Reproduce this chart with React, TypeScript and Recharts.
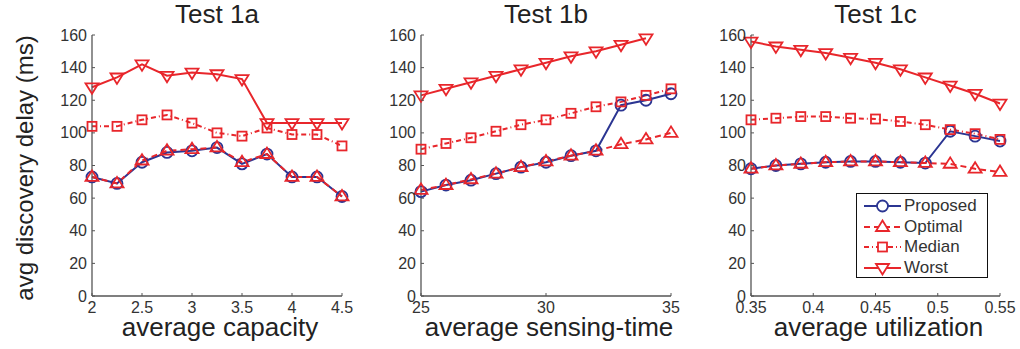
import React from 'react';
import { LineChart, Line, XAxis, YAxis, Legend } from 'recharts';

const xA = [2, 2.25, 2.5, 2.75, 3, 3.25, 3.5, 3.75, 4, 4.25, 4.5];
const proposedA = [73, 69, 82, 88, 89, 91, 81, 87, 73, 73, 61];
const optimalA = [73, 69, 83, 89, 90, 91, 82, 87, 73, 73, 61];
const medianA = [104, 104, 108, 111, 106, 100, 98, 103, 99, 99, 92];
const worstA = [128, 134, 142, 135, 137, 136, 133, 106, 106, 106, 106];

const xB = [25, 26, 27, 28, 29, 30, 31, 32, 33, 34, 35];
const proposedB = [64, 68, 71, 75, 79, 82, 86, 89, 117, 120, 124];
const optimalB = [65, 68, 71.5, 75, 79, 82.5, 86, 89, 93, 96, 100];
const medianB = [90, 93.5, 97, 101, 105, 108, 112, 116, 119, 123, 127];
const worstB = [123, 127, 131, 135, 139, 143, 147, 150, 154, 158, null];

const xC = [0.35, 0.37, 0.39, 0.41, 0.43, 0.45, 0.47, 0.49, 0.51, 0.53, 0.55];
const proposedC = [78, 80, 81, 82, 82.5, 82.5, 82, 81.5, 101, 98, 95];
const optimalC = [78, 80, 81, 82, 82.5, 82.5, 82, 81.5, 81, 78, 76];
const medianC = [108, 109, 110, 110, 109, 108.5, 107, 105, 102, 99.5, 96];
const worstC = [156, 153, 151, 149, 146, 143, 139, 134, 129, 124, 118];

const yTicks = [0, 20, 40, 60, 80, 100, 120, 140, 160];
const xTicksA = [2, 2.5, 3, 3.5, 4, 4.5];
const xTicksB = [25, 30, 35];
const xTicksC = [0.35, 0.4, 0.45, 0.5, 0.55];

const titles = ['Test 1a', 'Test 1b', 'Test 1c'];
const xLabels = ['average capacity', 'average sensing-time', 'average utilization'];
const yLabel = 'avg discovery delay (ms)';
const seriesNames = ['Proposed', 'Optimal', 'Median', 'Worst'];

const BLUE = '#2b3592';
const RED = '#e8262b';
const AXIS = '#555';
const TXT = '#333';
const FONT = '"Liberation Sans", Arial, sans-serif';

const build = (xs: number[], p: any[], o: any[], m: any[], w: any[]) =>
  xs.map((x, i) => ({ x, proposed: p[i], optimal: o[i], median: m[i], worst: w[i] }));

const circle = (color: string) => (props: any) => {
  const { cx, cy, index } = props;
  if (cx == null || cy == null) return <g key={`c${index}`} />;
  return <circle key={`c${index}`} cx={cx} cy={cy} r={5.5} fill="none" stroke={color} strokeWidth={1.8} />;
};
const triUp = (color: string) => (props: any) => {
  const { cx, cy, index } = props;
  if (cx == null || cy == null) return <g key={`u${index}`} />;
  const s = 6.5;
  return (
    <polygon key={`u${index}`} points={`${cx},${cy - s} ${cx - s},${cy + s * 0.6} ${cx + s},${cy + s * 0.6}`}
      fill="none" stroke={color} strokeWidth={1.8} />
  );
};
const triDown = (color: string) => (props: any) => {
  const { cx, cy, index, value } = props;
  if (cx == null || cy == null || value == null) return <g key={`d${index}`} />;
  const s = 6.5;
  return (
    <polygon key={`d${index}`} points={`${cx},${cy + s} ${cx - s},${cy - s * 0.6} ${cx + s},${cy - s * 0.6}`}
      fill="none" stroke={color} strokeWidth={1.8} />
  );
};
const square = (color: string) => (props: any) => {
  const { cx, cy, index } = props;
  if (cx == null || cy == null) return <g key={`s${index}`} />;
  const s = 4.5;
  return <rect key={`s${index}`} x={cx - s} y={cy - s} width={2 * s} height={2 * s} fill="none" stroke={color} strokeWidth={1.8} />;
};

const YTick = (props: any) => {
  const { x, y, payload } = props;
  return (
    <g>
      <line x1={x + 5} x2={x + 8} y1={y} y2={y} stroke={AXIS} strokeWidth={1} />
      <text x={x} y={y} textAnchor="end" dominantBaseline="central" fill={TXT} fontSize={16} fontFamily={FONT}>
        {payload.value}
      </text>
    </g>
  );
};
const XTick = (props: any) => {
  const { x, y, payload } = props;
  return (
    <g>
      <line x1={x} x2={x} y1={y - 5} y2={y - 8} stroke={AXIS} strokeWidth={1} />
      <text x={x} y={y} textAnchor="middle" dy="0.72em" fill={TXT} fontSize={16} fontFamily={FONT}>
        {payload.value}
      </text>
    </g>
  );
};

const LegendBox = () => {
  const rows = [
    { name: seriesNames[0], color: BLUE, dash: undefined as any, mk: 'c' },
    { name: seriesNames[1], color: RED, dash: '6 4', mk: 'u' },
    { name: seriesNames[2], color: RED, dash: '5 3 1 3', mk: 's' },
    { name: seriesNames[3], color: RED, dash: undefined, mk: 'd' },
  ];
  return (
    <div style={{ border: '1.5px solid #111', background: '#fff', width: 132, height: 85, boxSizing: 'border-box', paddingTop: 2 }}>
      {rows.map((r) => (
        <div key={r.name} style={{ display: 'flex', alignItems: 'center', height: 20.5 }}>
          <svg width={47} height={20} style={{ display: 'block', flex: 'none' }}>
            <line x1={7} x2={44} y1={10} y2={10} stroke={r.color} strokeWidth={2} strokeDasharray={r.dash} />
            {r.mk === 'c' && <circle cx={25.5} cy={10} r={5.5} fill="#fff" stroke={r.color} strokeWidth={1.8} />}
            {r.mk === 'u' && <polygon points="25.5,3.5 19,14 32,14" fill="#fff" stroke={r.color} strokeWidth={1.8} />}
            {r.mk === 's' && <rect x={21} y={5.5} width={9} height={9} fill="#fff" stroke={r.color} strokeWidth={1.8} />}
            {r.mk === 'd' && <polygon points="25.5,16.5 19,6 32,6" fill="#fff" stroke={r.color} strokeWidth={1.8} />}
          </svg>
          <span style={{ fontFamily: FONT, fontSize: 17, color: TXT, whiteSpace: 'nowrap' }}>{r.name}</span>
        </div>
      ))}
    </div>
  );
};

type PanelProps = {
  left: number;
  width: number;
  yAxisWidth: number;
  marginRight: number;
  data: any[];
  domain: [number, number];
  ticks: number[];
  title: string;
  xLabel: string;
  showYLabel?: boolean;
  showLegend?: boolean;
};

const Panel = (p: PanelProps) => {
  const plotLeft = p.yAxisWidth;
  const plotRight = p.width - p.marginRight;
  const cx = (plotLeft + plotRight) / 2;
  return (
    <div style={{ position: 'absolute', left: p.left, top: 0 }}>
      <LineChart width={p.width} height={349} data={p.data} margin={{ top: 35, right: p.marginRight, bottom: 23, left: 0 }}>
        <text x={cx} y={14} textAnchor="middle" dominantBaseline="central" fontSize={26} fontFamily={FONT} fill="#222">
          {p.title}
        </text>
        <text x={cx + 3} y={336} textAnchor="middle" fontSize={26} fontFamily={FONT} fill="#222">
          {p.xLabel}
        </text>
        {p.showYLabel && (
          <text x={24} y={168} textAnchor="middle" dominantBaseline="central" fontSize={24} fontFamily={FONT} fill="#222"
            transform="rotate(-90, 24, 168)">
            {yLabel}
          </text>
        )}
        <XAxis dataKey="x" type="number" domain={p.domain} ticks={p.ticks} height={30} tickSize={0} tickMargin={5}
          tick={<XTick />} axisLine={{ stroke: AXIS, strokeWidth: 1.3 }} tickLine={false} interval={0} allowDecimals />
        <YAxis type="number" domain={[0, 160]} ticks={yTicks} width={p.yAxisWidth} tickSize={0} tickMargin={5}
          tick={<YTick />} axisLine={{ stroke: AXIS, strokeWidth: 1.3 }} tickLine={false} interval={0} />
        <Line dataKey="proposed" name={seriesNames[0]} stroke={BLUE} strokeWidth={2} dot={circle(BLUE)} isAnimationActive={false} />
        <Line dataKey="optimal" name={seriesNames[1]} stroke={RED} strokeWidth={2} strokeDasharray="6 4" dot={triUp(RED)} isAnimationActive={false} />
        <Line dataKey="median" name={seriesNames[2]} stroke={RED} strokeWidth={2} strokeDasharray="5 3 1 3" dot={square(RED)} isAnimationActive={false} />
        <Line dataKey="worst" name={seriesNames[3]} stroke={RED} strokeWidth={2} dot={triDown(RED)} isAnimationActive={false} />
        {p.showLegend && (
          <Legend content={<LegendBox />} layout="vertical" align="center" verticalAlign="middle"
            wrapperStyle={{ left: 176, top: 193, width: 132, height: 85 }} />
        )}
      </LineChart>
    </div>
  );
};

export default function App() {
  return (
    <div style={{ position: 'absolute', left: 0, top: 0, width: 1020, height: 349, background: '#fff', overflow: 'hidden' }}>
      <Panel left={0} width={362} yAxisWidth={92} marginRight={20} data={build(xA, proposedA, optimalA, medianA, worstA)}
        domain={[2, 4.5]} ticks={xTicksA} title={titles[0]} xLabel={xLabels[0]} showYLabel />
      <Panel left={340} width={340} yAxisWidth={81} marginRight={9} data={build(xB, proposedB, optimalB, medianB, worstB)}
        domain={[25, 35]} ticks={xTicksB} title={titles[1]} xLabel={xLabels[1]} />
      <Panel left={680} width={340} yAxisWidth={71} marginRight={20} data={build(xC, proposedC, optimalC, medianC, worstC)}
        domain={[0.35, 0.55]} ticks={xTicksC} title={titles[2]} xLabel={xLabels[2]} showLegend />
    </div>
  );
}
